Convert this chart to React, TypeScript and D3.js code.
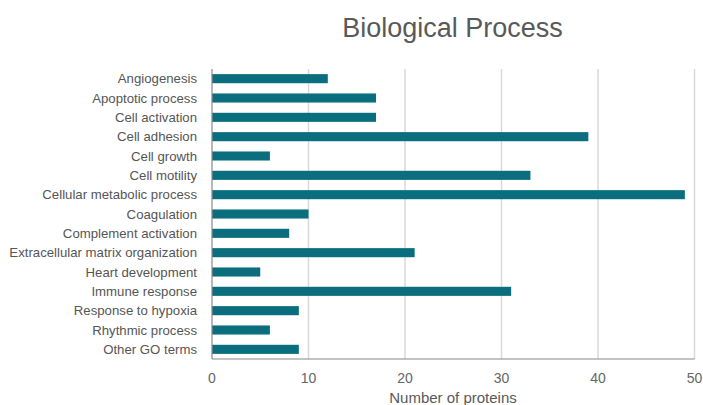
import React from 'react';
import * as d3 from 'd3';

const categories = [
  'Angiogenesis',
  'Apoptotic process',
  'Cell activation',
  'Cell adhesion',
  'Cell growth',
  'Cell motility',
  'Cellular metabolic process',
  'Coagulation',
  'Complement activation',
  'Extracellular matrix organization',
  'Heart development',
  'Immune response',
  'Response to hypoxia',
  'Rhythmic process',
  'Other GO terms',
];
const proteinCounts = [12, 17, 17, 39, 6, 33, 49, 10, 8, 21, 5, 31, 9, 6, 9];
const xTicks = [0, 10, 20, 30, 40, 50];

const App = () => {
  const width = 703;
  const height = 405;
  const left = 212;
  const right = 694.5;
  const top = 69;
  const bottom = 359;

  const x = d3.scaleLinear().domain([0, 50]).range([left, right]);
  const y = d3
    .scaleBand<string>()
    .domain(categories)
    .range([top, bottom])
    .paddingInner(0.53)
    .paddingOuter(0.265);

  const font = '"Liberation Sans", Arial, Helvetica, sans-serif';

  return (
    <svg width={width} height={height} style={{ position: 'absolute', left: 0, top: 0 }} fontFamily={font}>
      <text x={452.5} y={37} textAnchor="middle" fontSize={27} fill="#595959">
        Biological Process
      </text>
      {xTicks.slice(1).map((t) => (
        <line key={t} x1={x(t)} x2={x(t)} y1={top} y2={bottom} stroke="#d9d9d9" strokeWidth={1.5} />
      ))}
      {categories.map((c, i) => (
        <rect
          key={c}
          x={x(0)}
          y={y(c)}
          width={x(proteinCounts[i]) - x(0)}
          height={y.bandwidth()}
          fill="#0b6e7f"
        />
      ))}
      <line x1={left} x2={left} y1={top} y2={bottom} stroke="#888" strokeWidth={1.2} />
      <line x1={left} x2={right} y1={bottom} y2={bottom} stroke="#888" strokeWidth={1.2} />
      {categories.map((c) => (
        <text
          key={c}
          x={197}
          y={(y(c) ?? 0) + y.bandwidth() / 2}
          dy="0.35em"
          textAnchor="end"
          fontSize={13.2}
          fill="#555"
        >
          {c}
        </text>
      ))}
      {xTicks.map((t) => (
        <text key={t} x={x(t)} y={383} textAnchor="middle" fontSize={14} fill="#666">
          {t}
        </text>
      ))}
      <text x={453} y={403} textAnchor="middle" fontSize={15} fill="#595959">
        Number of proteins
      </text>
    </svg>
  );
};

export default App;
